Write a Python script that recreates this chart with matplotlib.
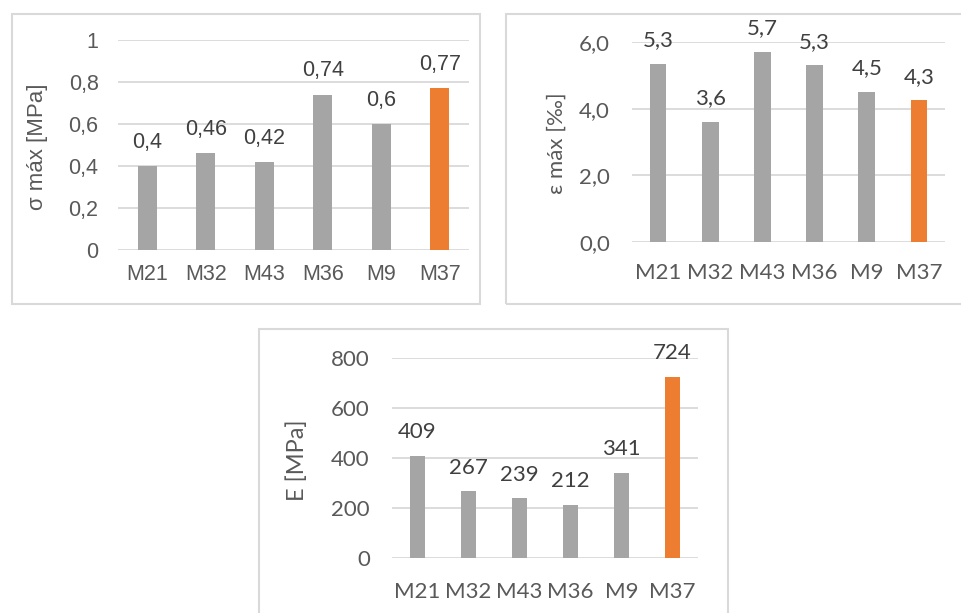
import matplotlib.pyplot as plt
from matplotlib.patches import Rectangle

categories = ['M21', 'M32', 'M43', 'M36', 'M9', 'M37']
sigma_max = [0.40, 0.46, 0.42, 0.74, 0.60, 0.77]
sigma_labels = ['0,4', '0,46', '0,42', '0,74', '0,6', '0,77']
eps_max = [5.35, 3.6, 5.7, 5.3, 4.5, 4.25]
eps_labels = ['5,3', '3,6', '5,7', '5,3', '4,5', '4,3']
e_mod = [409, 267, 239, 212, 341, 724]
e_labels = ['409', '267', '239', '212', '341', '724']

sigma_ticks = [0, 0.2, 0.4, 0.6, 0.8, 1]
sigma_ticklabels = ['0', '0,2', '0,4', '0,6', '0,8', '1']
eps_ticks = [0, 2, 4, 6]
eps_ticklabels = ['0,0', '2,0', '4,0', '6,0']
e_ticks = [0, 200, 400, 600, 800]
e_ticklabels = ['0', '200', '400', '600', '800']

GRAY = '#A5A5A5'
ORANGE = '#ED7D31'
TXT = '#595959'
GRID = '#D9D9D9'
colors = [GRAY] * 5 + [ORANGE]

W, H = 962, 613
fig = plt.figure(figsize=(W / 100, H / 100), dpi=100)


def px_axes(x0, x1, ytop, ybot):
    return fig.add_axes([x0 / W, 1 - ybot / H, (x1 - x0) / W, (ybot - ytop) / H])


def frame(x0, y0, x1, y1):
    fig.patches.append(Rectangle((x0 / W, 1 - y1 / H), (x1 - x0) / W, (y1 - y0) / H,
                                 transform=fig.transFigure, fill=False,
                                 edgecolor=GRID, linewidth=1.5))


def panel(ax, values, labels, ticks, ticklabels, ymax, font, fs, ypad, xpad, width):
    x = range(len(categories))
    ax.bar(x, values, width=width, color=colors, zorder=3)
    ax.set_ylim(0, ymax)
    ax.set_xlim(-0.5, len(categories) - 0.5)
    ax.set_yticks(ticks)
    ax.set_yticklabels(ticklabels, fontsize=fs, color=TXT, family=font)
    ax.set_xticks(list(x))
    ax.set_xticklabels(categories, fontsize=fs, color=TXT, family=font)
    ax.tick_params(axis='both', length=0)
    ax.tick_params(axis='y', pad=ypad)
    ax.tick_params(axis='x', pad=xpad)
    ax.grid(axis='y', color=GRID, linewidth=1.3, zorder=0)
    for s in ax.spines.values():
        s.set_visible(False)
    for i, (v, lab) in enumerate(zip(values, labels)):
        ax.annotate(lab, (i, v), xytext=(0, 17), textcoords='offset points',
                    ha='center', va='center', fontsize=fs, color='#404040',
                    family=font, annotation_clip=False)


# panel 1: sigma max
frame(12, 14, 480, 304)
ax1 = px_axes(118, 469, 40, 250)
panel(ax1, sigma_max, sigma_labels, sigma_ticks, sigma_ticklabels, 1.0,
      'Liberation Sans', 15.5, 14, 10, 0.32)
fig.text(38 / W, 1 - 147 / H, 'σ máx [MPa]', rotation=90, ha='center', va='center',
         fontsize=16, color=TXT, family='Liberation Sans')

# panel 2: epsilon max
frame(506, 14, 964, 304)
ax2 = px_axes(632, 945, 42, 242)
panel(ax2, eps_max, eps_labels, eps_ticks, eps_ticklabels, 6.0,
      'Lato', 16, 16, 15, 0.32)
fig.text(557 / W, 1 - 143 / H, 'ε máx [‰]', rotation=90, ha='center', va='center',
         fontsize=16, color=TXT, family='Lato')

# panel 3: E
frame(259, 329, 728, 615)
ax3 = px_axes(392, 698, 358, 558)
panel(ax3, e_mod, e_labels, e_ticks, e_ticklabels, 800,
      'Lato', 16, 16, 17, 0.31)
fig.text(297 / W, 1 - 460 / H, 'E [MPa]', rotation=90, ha='center', va='center',
         fontsize=17, color=TXT, family='Lato')

fig.savefig('out.png', dpi=100, facecolor='white')
